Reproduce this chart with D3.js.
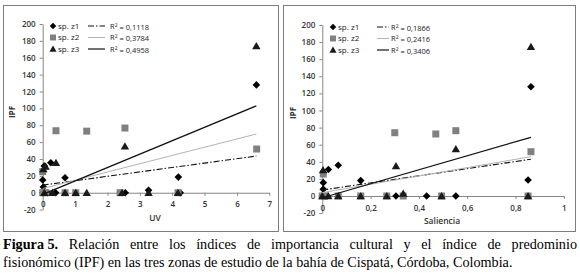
<!DOCTYPE html>
<html>
<head>
<meta charset="utf-8">
<script src="https://d3js.org/d3.v7.min.js"></script>
<style>
  body { margin: 0; background: #fff; }
</style>
</head>
<body>
<script>
// values: [x, IPF]
const uvZ1 = [[6.6,127.8],[0.25,35.6],[0.05,31.7],[0,15],[0.02,6.7],[0.69,17.8],[4.19,18.5],[3.27,3],
              [0,0],[0.15,0],[0.4,0],[2.55,0],[4.25,0]];
const uvZ2 = [[0.41,73.5],[1.36,73],[2.54,76.7],[6.61,51.8],[0,25],
              [0,0],[0.1,0],[0.69,0],[1.02,0],[2.39,0],[4.18,0]];
const uvZ3 = [[6.6,174],[2.54,55],[0.41,35.6],[0.09,31],[0.02,28],
              [0.05,0],[0.3,0],[0.69,0],[1.02,0],[1.36,0],[2.45,0],[3.27,0],[4.18,0]];

const salZ1 = [[0.864,127.8],[0.066,36],[0.025,31],[0.004,15.6],[0.004,8],[0.159,18],[0.852,18.7],
               [0.305,0],[0.432,0],[0.553,0],[0.02,0],[0,0]];
const salZ2 = [[0.30,74],[0.47,72.5],[0.553,76.4],[0.864,51.8],[0.004,25.7],
               [0,0],[0.01,0],[0.066,0],[0.159,0],[0.267,0],[0.335,0],[0.494,0],[0.852,0]];
const salZ3 = [[0.864,174.6],[0.553,55],[0.305,35],[0.003,30.4],
               [0,0],[0.025,0],[0.066,0],[0.159,0],[0.267,0],[0.335,3],[0.494,0],[0.852,0]];

// linear trendlines, endpoints
const uvTrendZ1 = [[0,9],[6.6,43.5]];
const uvTrendZ2 = [[0,5],[6.6,69.6]];
const uvTrendZ3 = [[0,-2],[6.6,103]];
const salTrendZ1 = [[0,7],[0.864,43]];
const salTrendZ2 = [[0,4],[0.864,46]];
const salTrendZ3 = [[0,-2],[0.864,68.6]];

const seriesNames = ["sp. z1", "sp. z2", "sp. z3"];
const uvR2 = ["0,1118", "0,3784", "0,4958"];
const salR2 = ["0,1866", "0,2416", "0,3406"];

const yTicks = [-20,0,20,40,60,80,100,120,140,160,180,200];
const uvTicks = [0,1,2,3,4,5,6,7];
const salTicks = [0,0.2,0.4,0.6,0.8,1];

const captionBold = "Figura 5.";
const captionLine1 = "Relación entre los índices de importancia cultural y el índice de predominio";
const captionLine2 = "fisionómico (IPF) en las tres zonas de estudio de la bahía de Cispatá, Córdoba, Colombia.";

const W = 580, H = 277;
const svg = d3.select("body").append("svg")
    .attr("width", W).attr("height", H)
    .style("font-family", "'Open Sans', sans-serif");

const markerFill = ["#000", "#808080", "#1a1a1a"];
const lineStyle = [
  {stroke: "#111", width: 1.1, dash: "6,2,1.5,2"},
  {stroke: "#b3b3b3", width: 1, dash: null},
  {stroke: "#111", width: 1.2, dash: null}
];

function markerPath(i) {
  if (i === 0) return "M0,-3.8L3.8,0L0,3.8L-3.8,0Z";
  if (i === 1) return "M-3.5,-3.5H3.5V3.5H-3.5Z";
  return "M0,-4L4.2,3.2H-4.2Z";
}

function drawPanel(p) {
  const g = svg.append("g");

  g.append("rect")
    .attr("x", p.frame[0] + 0.5).attr("y", p.frame[1] + 0.5)
    .attr("width", p.frame[2]).attr("height", p.frame[3])
    .attr("fill", "#fff").attr("stroke", "#7d7d7d").attr("stroke-width", 1);

  const x = d3.scaleLinear().domain(p.xDomain).range(p.xRange);
  const y = d3.scaleLinear().domain([-20, 200]).range(p.yRange);

  const yAxis = g.append("g")
    .attr("transform", `translate(${x(0)},0)`)
    .call(d3.axisLeft(y).tickValues(yTicks).tickFormat(d => String(d))
      .tickSizeInner(3).tickSizeOuter(0).tickPadding(4));

  const xAxis = g.append("g")
    .attr("transform", `translate(0,${y(0)})`)
    .call(d3.axisBottom(x).tickValues(p.xTicks).tickFormat(p.fmt)
      .tickSizeInner(3).tickSizeOuter(0).tickPadding(6));

  [yAxis, xAxis].forEach(a => {
    a.select(".domain").attr("stroke", "#868686");
    a.selectAll(".tick line").attr("stroke", "#868686");
    a.selectAll(".tick text")
      .attr("fill", "#333").style("font-size", "8px").style("font-weight", 600)
      .style("font-family", "'Open Sans', sans-serif");
  });

  // markers
  p.series.forEach((s, i) => {
    g.append("g").selectAll("path")
      .data(s).join("path")
      .attr("d", markerPath(i))
      .attr("transform", d => `translate(${x(d[0])},${y(d[1])})`)
      .attr("fill", markerFill[i]);
  });

  // trendlines
  const line = d3.line().x(d => x(d[0])).y(d => y(d[1]));
  p.trends.forEach((t, i) => {
    g.append("path").datum(t)
      .attr("d", line)
      .attr("fill", "none")
      .attr("stroke", lineStyle[i].stroke)
      .attr("stroke-width", lineStyle[i].width)
      .attr("stroke-dasharray", lineStyle[i].dash);
  });

  // legend
  const leg = g.append("g");
  seriesNames.forEach((name, i) => {
    const ly = p.legY[i];
    leg.append("path").attr("d", markerPath(i))
      .attr("transform", `translate(${p.legX},${ly}) scale(0.85)`)
      .attr("fill", markerFill[i]);
    leg.append("text").attr("x", p.legX + 5).attr("y", ly).attr("dy", "0.35em")
      .style("font-size", "8px").attr("fill", "#222").text(name);
    leg.append("line")
      .attr("x1", p.legLine[0]).attr("x2", p.legLine[1])
      .attr("y1", ly).attr("y2", ly)
      .attr("stroke", lineStyle[i].stroke)
      .attr("stroke-width", lineStyle[i].width)
      .attr("stroke-dasharray", lineStyle[i].dash);
    const t = leg.append("text").attr("x", p.legR2).attr("y", ly).attr("dy", "0.35em")
      .style("font-size", "7.5px").attr("fill", "#222");
    t.append("tspan").text("R");
    t.append("tspan").attr("dy", "-0.4em").style("font-size", "5px").text("2");
    t.append("tspan").attr("dy", "0.4em").text(" = " + p.r2[i]);
  });

  // axis titles
  g.append("text")
    .attr("transform", `translate(${p.yTitle[0]},${p.yTitle[1]}) rotate(-90)`)
    .attr("text-anchor", "middle").attr("dy", "0.35em")
    .style("font-size", "8px").style("font-weight", 700).attr("fill", "#333")
    .text("IPF");
  g.append("text")
    .attr("x", p.xTitle[0]).attr("y", p.xTitle[1])
    .attr("text-anchor", "middle").attr("dy", "0.35em")
    .style("font-size", "8.5px").style("font-weight", 600).attr("fill", "#333")
    .text(p.xLabel);
}

drawPanel({
  frame: [3, 5, 275, 226],
  xDomain: [0, 7], xRange: [42.7, 269.3], yRange: [209.6, 24],
  xTicks: uvTicks, fmt: d => String(d),
  series: [uvZ1, uvZ2, uvZ3], trends: [uvTrendZ1, uvTrendZ2, uvTrendZ3],
  legX: 53, legY: [26, 37.5, 49], legLine: [88, 105], legR2: 110, r2: uvR2,
  yTitle: [12, 112], xTitle: [155, 218], xLabel: "UV"
});

drawPanel({
  frame: [283, 5, 292, 226],
  xDomain: [0, 1], xRange: [322.3, 563.8], yRange: [213.1, 25],
  xTicks: salTicks, fmt: d => String(d).replace(".", ","),
  series: [salZ1, salZ2, salZ3], trends: [salTrendZ1, salTrendZ2, salTrendZ3],
  legX: 333, legY: [27, 38.5, 50], legLine: [377, 389], legR2: 391, r2: salR2,
  yTitle: [293, 113], xTitle: [442, 221.5], xLabel: "Saliencia"
});

// caption, first line justified
const cap = svg.append("g").style("font-family", "'Liberation Serif', 'Times New Roman', serif")
  .style("font-size", "14.2px").attr("fill", "#000");
const words = [captionBold].concat(captionLine1.split(" "));
const wNodes = words.map((w, i) => cap.append("text").attr("y", 249)
  .style("font-weight", i === 0 ? 700 : 400).text(w));
const widths = wNodes.map(n => n.node().getComputedTextLength());
const left = 3, right = 577;
const gap = (right - left - d3.sum(widths)) / (words.length - 1);
let cx = left;
wNodes.forEach((n, i) => { n.attr("x", cx); cx += widths[i] + gap; });
cap.append("text").attr("x", 3).attr("y", 267).text(captionLine2);
</script>
</body>
</html>
